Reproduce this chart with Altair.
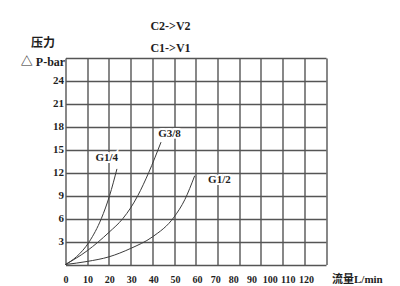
import altair as alt
import pandas as pd

# ---- data ----
x_ticks = list(range(0, 121, 10))
y_ticks = list(range(0, 28, 3))

g14_flow = [0, 5, 11, 16.5, 20.3, 23.7]
g14_press = [0, 1.0, 3.0, 6.0, 9.0, 12.5]

g38_flow = [0, 10, 20, 26.4, 30, 33.3, 38.3, 44]
g38_press = [0, 1.8, 4.2, 6.0, 7.4, 9.0, 12.0, 16.0]

g12_flow = [0, 10, 20, 30, 40, 50, 55, 59.5]
g12_press = [0, 0.4, 1.0, 2.1, 3.6, 6.2, 8.5, 11.6]

label_names = ["G1/4", "G3/8", "G1/2"]
label_flow = [19.0, 47.9, 70.9]
label_press = [13.9, 17.1, 11.0]

frames = []
for name, fx, fy in [("G1/4", g14_flow, g14_press),
                     ("G3/8", g38_flow, g38_press),
                     ("G1/2", g12_flow, g12_press)]:
    frames.append(pd.DataFrame({"series": name, "flow": fx, "press": fy}))
curve_df = pd.concat(frames, ignore_index=True)
label_df = pd.DataFrame({"name": label_names, "flow": label_flow, "press": label_press})
tick_df = pd.DataFrame({"tick": x_ticks})

FONT = "'Liberation Serif', 'Noto Sans CJK SC', serif"
GRID = "#555555"
INK = "#1e1e1e"

x_enc = alt.X(
    "flow:Q",
    scale=alt.Scale(domain=[0, 120], nice=False, zero=False),
    axis=alt.Axis(
        orient="top", values=x_ticks, grid=True, gridColor=GRID, gridWidth=1.4,
        gridOpacity=1, labels=False, ticks=False, domain=False,
        title=["C2->V2", "C1->V1"], titleX=104.5, titleY=-33,
        titleAlign="center", titleBaseline="middle", titleLineHeight=22,
        titleFont=FONT, titleFontSize=12, titleFontWeight="bold", titleColor=INK,
    ),
)
y_enc = alt.Y(
    "press:Q",
    scale=alt.Scale(domain=[0, 27], nice=False),
    axis=alt.Axis(
        values=y_ticks, grid=True, gridColor=GRID, gridWidth=1.4, gridOpacity=1,
        ticks=False, domain=False, labelPadding=2,
        labelExpr="datum.value == 0 || datum.value == 27 ? '' : datum.label",
        labelFont=FONT, labelFontSize=11, labelFontWeight="bold", labelColor=INK,
        title=["压力", "△ P-bar"], titleAngle=0, titleX=-23, titleY=-16,
        titleAlign="center", titleBaseline="middle", titleLineHeight=19,
        titleFont=FONT, titleFontSize=12, titleFontWeight="bold", titleColor=INK,
    ),
)

curves = alt.Chart(curve_df).mark_line(
    color="#3c3c3c", strokeWidth=1, interpolate="monotone"
).encode(x=x_enc, y=y_enc, detail="series:N")

halo = alt.Chart(label_df).mark_text(
    font=FONT, fontSize=11, fontWeight="bold", stroke="white", strokeWidth=4,
    color="white"
).encode(x=x_enc, y=y_enc, text="name:N")

labels = alt.Chart(label_df).mark_text(
    font=FONT, fontSize=11, fontWeight="bold", color=INK
).encode(x=x_enc, y=y_enc, text="name:N")

main = alt.layer(curves, halo, labels)

xaxis_layer = alt.Chart(tick_df).mark_point(opacity=0).encode(
    x=alt.X(
        "tick:Q",
        scale=alt.Scale(domain=[0, 60, 120], range=[0, 131.5, 240.5], zero=False, nice=False),
        axis=alt.Axis(
            orient="bottom", values=x_ticks, grid=False, ticks=False, domain=False,
            labelPadding=10, labelFont=FONT, labelFontSize=10, labelFontWeight="bold",
            labelColor=INK, labelFlush=False,
            title="流量L/min", titleX=266, titleY=14.5, titleAlign="left",
            titleBaseline="middle", titleFont=FONT, titleFontSize=11,
            titleFontWeight="bold", titleColor=INK,
        ),
    )
)

chart = alt.layer(main, xaxis_layer).resolve_scale(x="independent").properties(
    width=260.5,
    height=206.5,
    autosize=alt.AutoSizeParams(type="none"),
    padding={"left": 57.5, "top": 50, "right": 66, "bottom": 19},
    background="white",
).configure_view(stroke=None)

chart.save("out.html", embed_options={"renderer": "svg", "actions": False})
